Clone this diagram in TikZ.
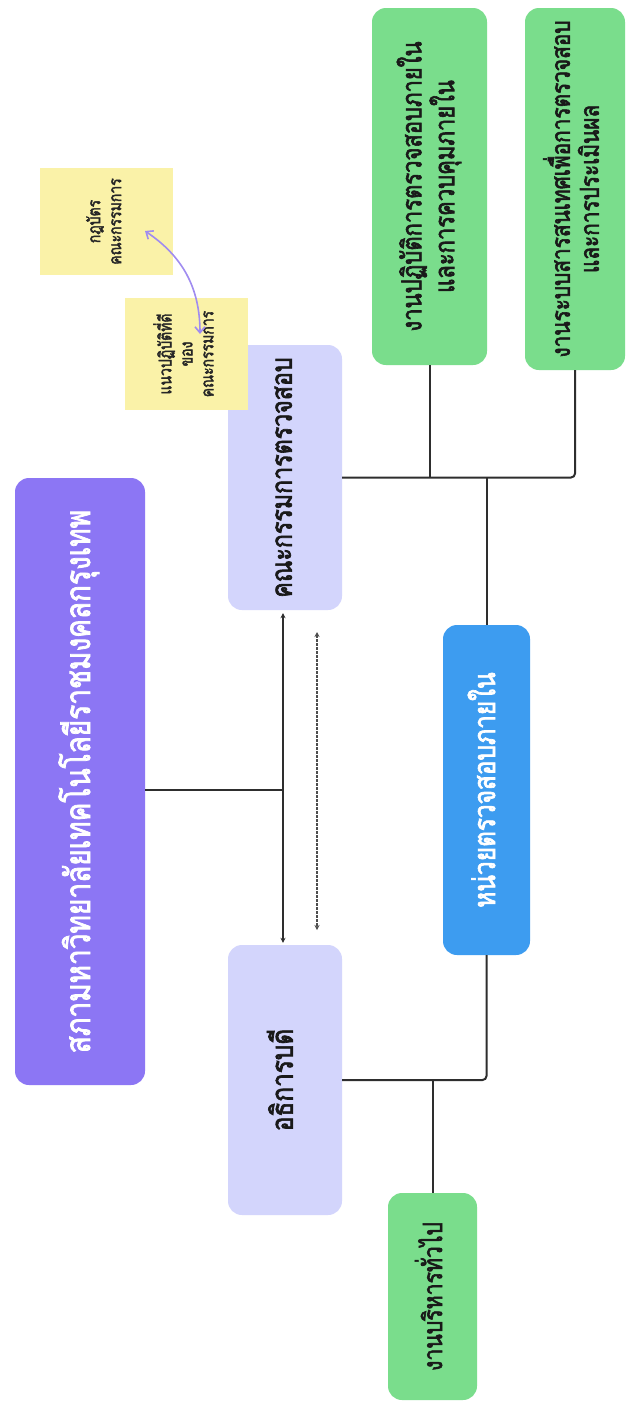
\documentclass[tikz,border=0pt]{standalone}
\usepackage{fontspec}
\usepackage{graphicx}
\usetikzlibrary{arrows.meta}
\newfontfamily\thaifont[Script=Thai,FakeStretch=0.8,FakeBold=2.2]{Loma}
\definecolor{unipurple}{HTML}{8C76F4}
\definecolor{lavbox}{HTML}{D3D5FC}
\definecolor{stickyyellow}{HTML}{FAF2A8}
\definecolor{greenbox}{HTML}{7ADD8C}
\definecolor{bluebox}{HTML}{3D9CF0}
\definecolor{arrowpurple}{HTML}{A08CF0}
\definecolor{linegray}{HTML}{2E2E2E}
\newcommand{\rtext}[1]{\rotatebox{90}{\begin{tabular}{@{}c@{}}#1\end{tabular}}}
\begin{document}
\begin{tikzpicture}[x=1pt,y=-1pt,
  boxbase/.style={rectangle,rounded corners=14pt,inner sep=0pt},
  unibox/.style={boxbase,fill=unipurple,text=white,font=\thaifont\fontsize{35}{38}\selectfont},
  lavnode/.style={boxbase,fill=lavbox,text=black!90,font=\thaifont\fontsize{29}{34}\selectfont},
  sticky/.style={rectangle,inner sep=0pt,fill=stickyyellow,text=black!85,font=\thaifont\fontsize{17.5}{21}\selectfont},
  greennode/.style={boxbase,fill=greenbox,text=black!90,font=\thaifont\fontsize{27}{27}\selectfont},
  bluenode/.style={boxbase,fill=bluebox,text=white,font=\thaifont\fontsize{30.5}{34}\selectfont},
  conn/.style={draw=linegray,line width=2pt},
  >={Stealth[length=5pt,width=5pt]}]
\useasboundingbox[fill=white] (0,0) rectangle (630,1408);

% nodes
\node[unibox,minimum width=130pt,minimum height=607pt] (uni) at (80,781.5) {\rtext{สภามหาวิทยาลัยเทคโนโลยีราชมงคลกรุงเทพ}};
\node[lavnode,minimum width=114pt,minimum height=265pt] (audcom) at (285,477.5) {\rtext{คณะกรรมการตรวจสอบ}};
\node[lavnode,minimum width=114pt,minimum height=270pt,font=\thaifont\fontsize{30.5}{34}\selectfont] (pres) at (285,1080) {\rtext{อธิการบดี}};
\node[sticky,minimum width=133pt,minimum height=107pt] (charter) at (106.5,221.5) {\rtext{กฎบัตร\\คณะกรรมการ}};
\node[sticky,minimum width=123pt,minimum height=112pt] (guide) at (186.5,354) {\rtext{แนวปฏิบัติที่ดี\\ของ\\คณะกรรมการ}};
\node[greennode,minimum width=115pt,minimum height=357pt,font=\thaifont\fontsize{27.5}{27}\selectfont] (g1) at (429.5,186.5) {\rtext{งานปฏิบัติการตรวจสอบภายใน\\และการควบคุมภายใน}};
\node[greennode,minimum width=100pt,minimum height=362pt,font=\thaifont\fontsize{26}{27}\selectfont] (g2) at (575,189) {\rtext{งานระบบสารสนเทศเพื่อการตรวจสอบ\\และการประเมินผล}};
\node[bluenode,minimum width=87pt,minimum height=330pt] (blue) at (486.5,790) {\rtext{หน่วยตรวจสอบภายใน}};
\node[greennode,minimum width=89pt,minimum height=207pt,font=\thaifont\fontsize{26.5}{27}\selectfont] (g3) at (432.5,1296.5) {\rtext{งานบริหารทั่วไป}};

% coordinates
\coordinate (j1) at (283,790);
\coordinate (d1) at (317,632);
\coordinate (d2) at (317,930);
\coordinate (ca) at (145,231);
\coordinate (ga) at (200,334);

% connectors
\draw[conn] (uni.east |- j1) -- (j1);
\draw[conn,line width=1.8pt,<->] ([yshift=-3pt]audcom.south -| j1) -- ([yshift=2pt]pres.north -| j1);
\draw[draw=linegray!85,line width=2.4pt,dash pattern=on 2.5pt off 1.5pt,<->] (d1) -- (d2);
\draw[conn,rounded corners=4pt] (audcom.east) -| (g2.south);
\draw[conn] (g1.south) -- (g1.south |- audcom.east);
\draw[conn] (blue.north) -- (blue.north |- audcom.east);
\draw[conn,rounded corners=4pt] (pres.east) -| (blue.south);
\draw[conn] (g3.north) -- (g3.north |- pres.east);
\draw[draw=arrowpurple,line width=1.6pt,{Straight Barb[length=6pt,width=10pt]}-{Straight Barb[length=6pt,width=10pt]}] (ca) to[bend left=28] (ga);
\end{tikzpicture}
\end{document}
